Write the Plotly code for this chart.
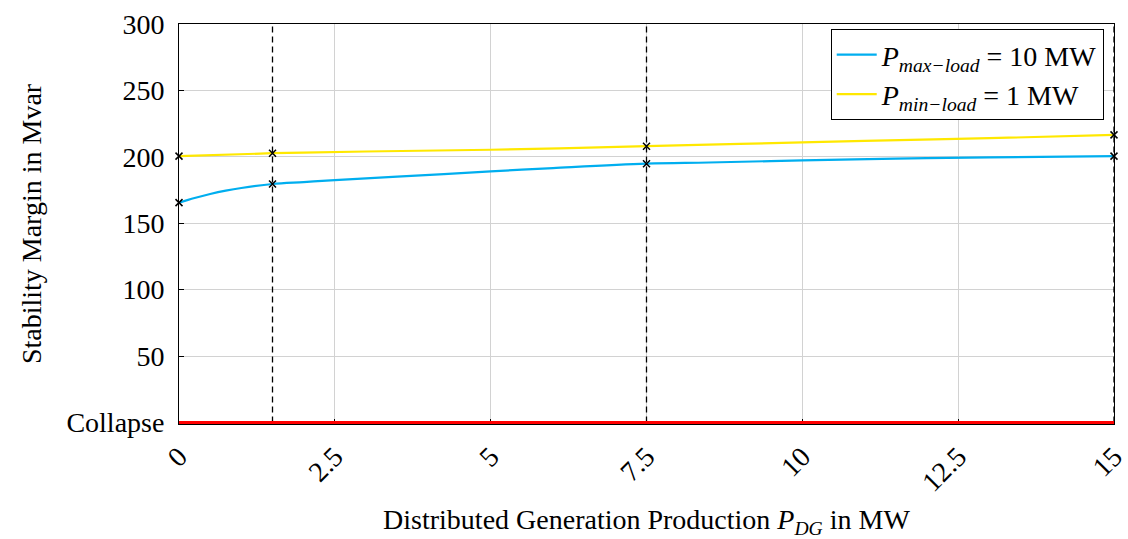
import plotly.graph_objects as go

# Stability margin (Mvar) vs. distributed generation production (MW)
p_dg_max = [0, 0.25, 0.5, 0.75, 1.0, 1.5, 2.0, 2.5, 3.5, 5.0, 6.0, 7.5, 8.5, 10.0, 11.5, 13.0, 15.0]
margin_max_load = [165.5, 169, 172, 174.5, 176.5, 179.5, 181, 182.5, 185, 189, 191.5, 194.8, 195.7, 197.3, 198.6, 199.6, 200.5]

p_dg_min = [0, 1.5, 3.0, 5.0, 7.5, 9.0, 11.0, 13.0, 15.0]
margin_min_load = [200.5, 202.7, 204, 205.3, 208, 209.7, 212, 214, 216.5]

# Operating points highlighted with crosses and dashed guides
p_dg_marks = [0, 1.5, 7.5, 15]
p_dg_guides = [1.5, 7.5, 15]

collapse_x = [0, 15]
collapse_y = [0, 0]

x_ticks = [0, 2.5, 5, 7.5, 10, 12.5, 15]
x_tick_text = ["0", "2.5", "5", "7.5", "10", "12.5", "15"]
y_ticks = [0, 50, 100, 150, 200, 250, 300]
y_tick_text = ["Collapse", "50", "100", "150", "200", "250", "300"]

BLUE = "rgb(0,174,239)"
YELLOW = "rgb(255,232,0)"
FONT = "Liberation Serif"

fig = go.Figure()

# dashed vertical guides
gx, gy = [], []
for g in p_dg_guides:
    gx += [g, g, None]
    gy += [0, 300, None]
fig.add_trace(go.Scatter(x=gx, y=gy, mode="lines", showlegend=False,
                         line=dict(color="black", width=1.3, dash="6px,4px"), hoverinfo="skip"))

fig.add_trace(go.Scatter(x=p_dg_max, y=margin_max_load, mode="lines",
                         name="<i>P</i><sub><i>max−load</i></sub> = 10 MW",
                         line=dict(color=BLUE, width=2.2, shape="spline")))
fig.add_trace(go.Scatter(x=p_dg_min, y=margin_min_load, mode="lines",
                         name="<i>P</i><sub><i>min−load</i></sub> = 1 MW",
                         line=dict(color=YELLOW, width=2.2, shape="spline")))

# crosses at the operating points
for xs, ys in ((p_dg_max, margin_max_load), (p_dg_min, margin_min_load)):
    mx = [x for x in xs if x in p_dg_marks]
    my = [y for x, y in zip(xs, ys) if x in p_dg_marks]
    fig.add_trace(go.Scatter(x=mx, y=my, mode="markers", showlegend=False, cliponaxis=False,
                             marker=dict(symbol="x-thin", size=7, color="black",
                                         line=dict(color="black", width=1.5)),
                             hoverinfo="skip"))

fig.add_trace(go.Scatter(x=collapse_x, y=collapse_y, mode="lines", showlegend=False,
                         line=dict(color="red", width=3), hoverinfo="skip"))

axis_common = dict(showline=True, linecolor="black", linewidth=1, mirror=True,
                   showgrid=True, gridcolor="rgb(210,210,210)", gridwidth=1,
                   ticks="inside", ticklen=5, tickcolor="black", zeroline=False,
                   layer="below traces", automargin=False, ticklabeloverflow="allow")

fig.update_xaxes(range=[0, 15], tickvals=x_ticks, ticktext=x_tick_text, tickangle=-45,
                 tickfont=dict(family=FONT, size=28, color="black"), ticklabelstandoff=4,
                 title=dict(text="Distributed Generation Production <i>P</i><sub><i>DG</i></sub> in MW",
                            font=dict(family=FONT, size=28, color="black"), standoff=24),
                 **axis_common)
fig.update_yaxes(range=[-1.2, 300], tickvals=y_ticks, ticktext=y_tick_text,
                 tickfont=dict(family=FONT, size=28, color="black"), ticklabelstandoff=8,
                 title=dict(text="Stability Margin in Mvar",
                            font=dict(family=FONT, size=28, color="black"), standoff=16),
                 **axis_common)

fig.update_layout(
    width=1128, height=539,
    margin=dict(l=179, r=14, t=24, b=115),
    paper_bgcolor="white", plot_bgcolor="white",
    font=dict(family=FONT, size=28, color="black"),
    legend=dict(x=0.989, y=0.9875, xanchor="right", yanchor="top",
                bgcolor="white", bordercolor="black", borderwidth=1,
                font=dict(family=FONT, size=28, color="black"),
                tracegroupgap=0, itemwidth=40),
)

fig.write_html("out.html")
